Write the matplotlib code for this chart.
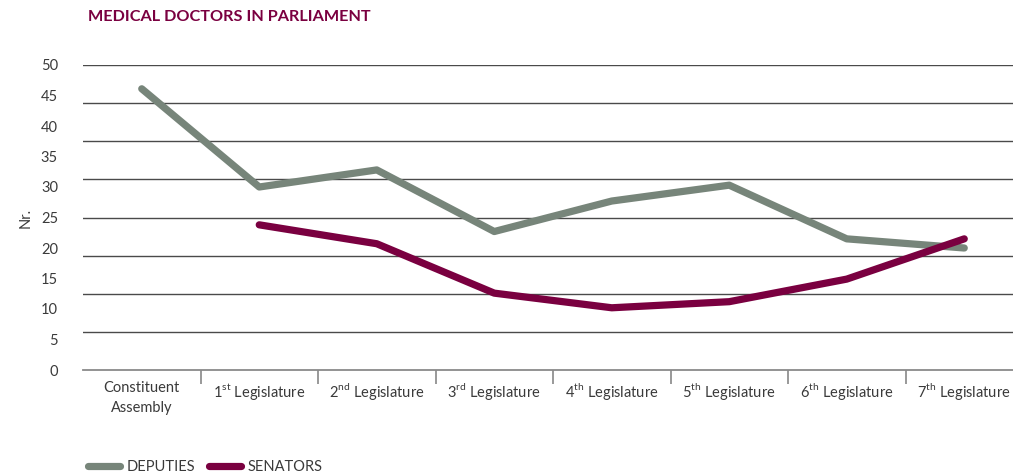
import matplotlib
matplotlib.use("Agg")
import matplotlib.pyplot as plt
import numpy as np

categories = ["Constituent\nAssembly",
              r"1$^{\mathrm{st}}$ Legislature",
              r"2$^{\mathrm{nd}}$ Legislature",
              r"3$^{\mathrm{rd}}$ Legislature",
              r"4$^{\mathrm{th}}$ Legislature",
              r"5$^{\mathrm{th}}$ Legislature",
              r"6$^{\mathrm{th}}$ Legislature",
              r"7$^{\mathrm{th}}$ Legislature"]
deputies = [46.1, 30.0, 32.8, 22.7, 27.7, 30.3, 21.5, 20.0]
senators = [np.nan, 23.8, 20.7, 12.6, 10.2, 11.2, 14.9, 21.5]
y_ticks = list(range(0, 51, 5))

plt.rcParams["font.family"] = ["Lato", "DejaVu Sans"]
plt.rcParams["mathtext.fontset"] = "custom"
plt.rcParams["mathtext.rm"] = "Lato"

grey = "#77857a"
maroon = "#7a0040"
text_col = "#3a3a3a"

fig = plt.figure(figsize=(10.13, 4.76), dpi=100)
ax = fig.add_axes([83 / 1013, 106 / 476, 940 / 1013, 305 / 476])

x = np.arange(len(categories))
ax.plot(x, deputies, color=grey, lw=5.2, solid_joinstyle="round",
        solid_capstyle="round", label="DEPUTIES", zorder=3)
ax.plot(x, senators, color=maroon, lw=5.2, solid_joinstyle="round",
        solid_capstyle="round", label="SENATORS", zorder=4)

# gridlines sit at eight equal steps in the original, independent of labels
for g in np.linspace(0, 50, 9)[1:]:
    ax.axhline(g, color="#4a4a4a", lw=1, zorder=1)

ax.set_xlim(-0.5, len(categories) - 0.5)
ax.set_ylim(0, 50)
ax.set_yticks(y_ticks)
ax.set_xticks(x)
ax.set_xticklabels(categories, fontsize=10.5, color=text_col)
for lab in ax.get_xticklabels():
    lab.set_linespacing(1.5)
ax.set_xticks(x[:-1] + 0.5, minor=True)
ax.tick_params(axis="x", which="major", length=0, pad=8)
ax.tick_params(axis="x", which="minor", length=10, width=1.2, color="#888888")
ax.tick_params(axis="y", length=0, pad=18, labelsize=10.5, labelcolor=text_col)
for s in ["top", "right", "left"]:
    ax.spines[s].set_visible(False)
ax.spines["bottom"].set_color("#8a8a8a")
ax.spines["bottom"].set_linewidth(1.3)

ax.set_ylabel("Nr.", fontsize=10.5, color=text_col, labelpad=6)

fig.text(88 / 1013, 1 - 17 / 476, "MEDICAL DOCTORS IN PARLIAMENT",
         fontsize=11.7, fontweight="bold", color=maroon, va="center")

fig.legend(loc="center left", bbox_to_anchor=(75 / 1013, 1 - 467 / 476),
           ncol=2, frameon=False, fontsize=10.5, handlelength=2.2,
           handletextpad=0.45, columnspacing=0.9, labelcolor=text_col)

fig.savefig("out.png", dpi=100)
